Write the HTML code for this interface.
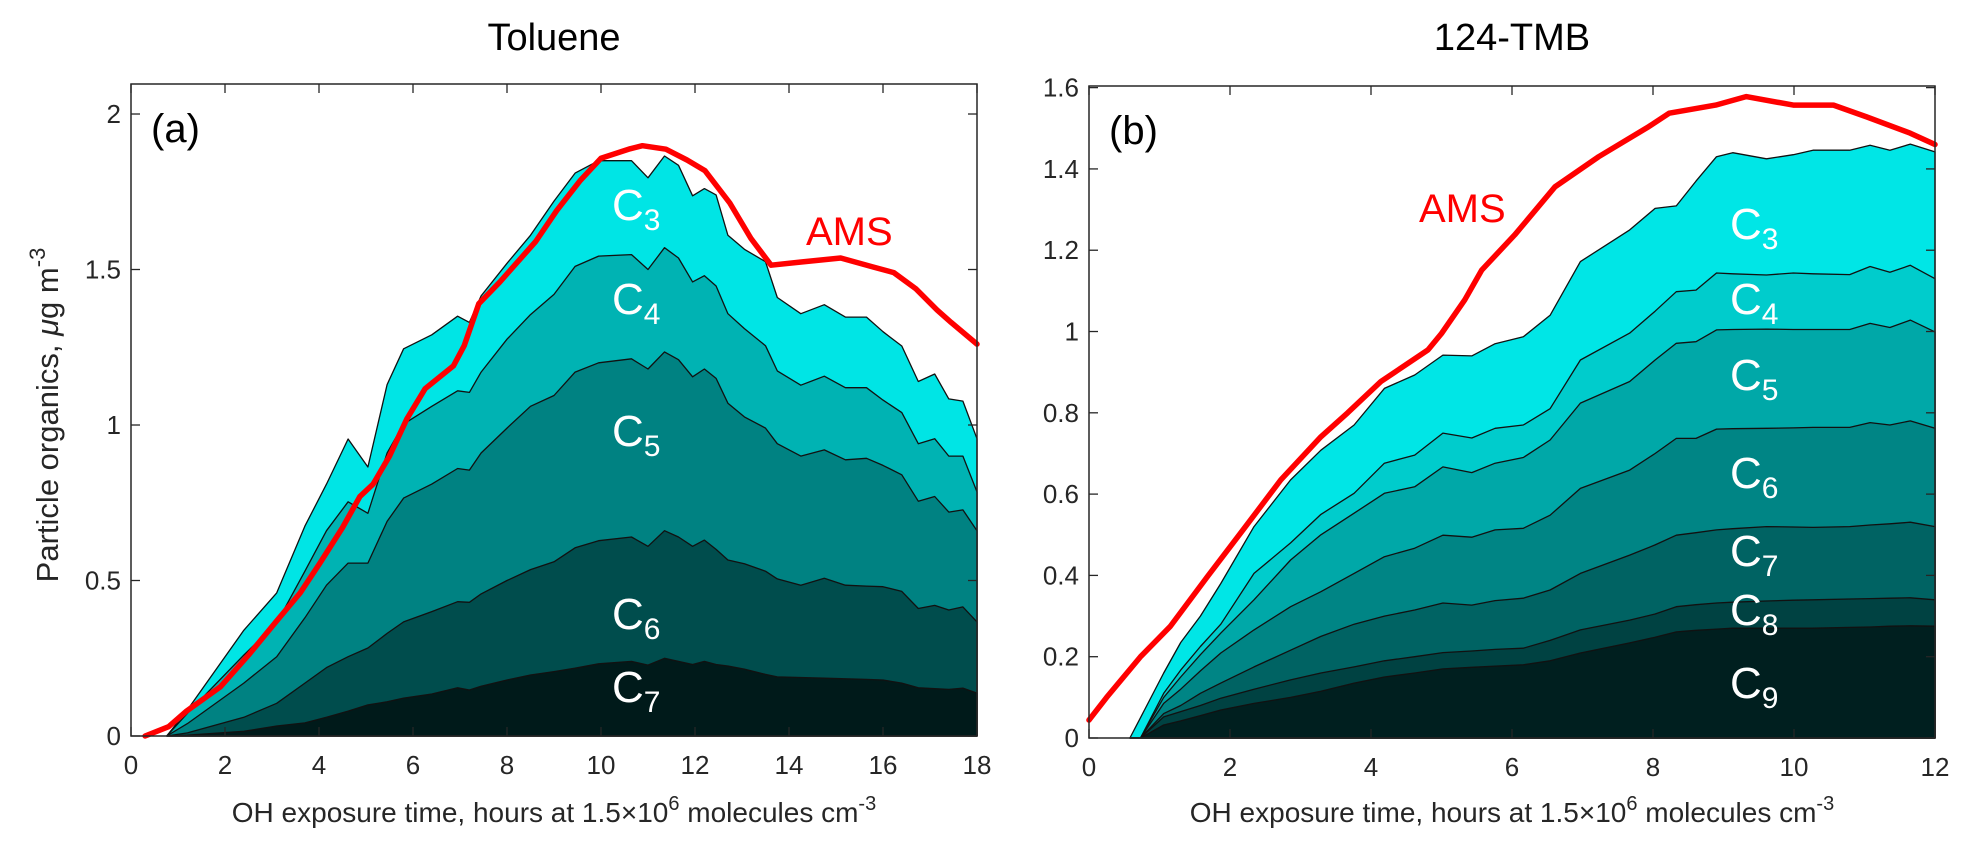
<!DOCTYPE html>
<html><head><meta charset="utf-8"><style>
html,body{margin:0;padding:0;background:#fff;}
svg{display:block;}
text{font-family:"Liberation Sans",sans-serif;}
</style></head><body>
<svg id="chart" width="1974" height="868" viewBox="0 0 1974 868" xmlns="http://www.w3.org/2000/svg">
<g id="panelA"></g>
<g id="panelB"></g>
</svg>
<script>
// ---------- Panel (a) Toluene data (cumulative tops) ----------
const xA = [0.76,1.2,2.4,3.1,3.7,4.16,4.62,5.04,5.45,5.8,6.4,6.95,7.2,7.45,8.0,8.5,9.0,9.45,9.95,10.65,11.0,11.35,11.65,11.95,12.2,12.45,12.7,13.05,13.5,13.75,14.25,14.75,15.2,15.65,16.0,16.4,16.75,17.1,17.4,17.7,18.0];
const a_C3 = [0,0.084,0.34,0.46,0.675,0.81,0.955,0.865,1.13,1.245,1.29,1.35,1.33,1.415,1.52,1.61,1.72,1.81,1.85,1.85,1.795,1.865,1.835,1.737,1.76,1.74,1.61,1.565,1.525,1.41,1.358,1.387,1.347,1.347,1.30,1.254,1.14,1.164,1.084,1.077,0.956];
const a_C4 = [0,0.073,0.26,0.363,0.53,0.66,0.753,0.716,0.91,1.003,1.06,1.11,1.105,1.17,1.276,1.355,1.42,1.51,1.543,1.548,1.50,1.57,1.537,1.46,1.48,1.447,1.358,1.31,1.255,1.174,1.128,1.157,1.12,1.12,1.08,1.04,0.94,0.956,0.90,0.90,0.785];
const a_C5 = [0,0.04,0.17,0.255,0.38,0.485,0.556,0.556,0.69,0.765,0.81,0.86,0.855,0.91,0.99,1.06,1.095,1.17,1.20,1.213,1.18,1.235,1.21,1.155,1.18,1.15,1.07,1.026,0.99,0.94,0.90,0.92,0.888,0.893,0.87,0.84,0.755,0.77,0.72,0.727,0.66];
const a_C6 = [0,0.01,0.06,0.105,0.17,0.22,0.255,0.283,0.33,0.367,0.40,0.432,0.43,0.457,0.50,0.535,0.56,0.605,0.628,0.64,0.61,0.66,0.64,0.61,0.63,0.60,0.566,0.554,0.53,0.505,0.485,0.507,0.485,0.482,0.48,0.465,0.41,0.42,0.405,0.415,0.367];
const a_C7 = [0,0.003,0.015,0.032,0.042,0.06,0.08,0.10,0.11,0.122,0.135,0.155,0.148,0.16,0.18,0.196,0.207,0.218,0.232,0.24,0.228,0.25,0.24,0.23,0.24,0.23,0.225,0.215,0.198,0.19,0.188,0.186,0.184,0.182,0.18,0.17,0.155,0.152,0.15,0.154,0.138];
const amsXA = [0.3,0.8,1.18,1.9,2.5,3.1,3.6,4.02,4.5,4.87,5.15,5.5,5.87,6.26,6.86,7.09,7.4,7.85,8.61,9.06,9.55,10.0,10.62,10.88,11.38,11.83,12.21,12.74,13.19,13.62,14.26,15.1,15.79,16.23,16.7,17.15,17.45,18.0];
const amsYA = [0,0.03,0.08,0.158,0.26,0.37,0.46,0.556,0.67,0.77,0.81,0.9,1.02,1.117,1.19,1.255,1.39,1.46,1.59,1.69,1.785,1.858,1.888,1.898,1.887,1.852,1.818,1.714,1.60,1.514,1.524,1.537,1.508,1.49,1.438,1.37,1.33,1.26];
const xTicksA = [0,2,4,6,8,10,12,14,16,18];
const yTicksA = [0,0.5,1,1.5,2];
const yTickLabelsA = ["0","0.5","1","1.5","2"];

// ---------- Panel (b) 124-TMB data (cumulative tops) ----------
const xB = [0.58,0.73,1.06,1.3,1.58,1.87,2.34,2.86,3.29,3.76,4.19,4.62,5.02,5.43,5.76,6.16,6.54,6.97,7.67,8.03,8.33,8.61,8.9,9.13,9.61,9.99,10.27,10.79,11.08,11.36,11.65,12.0];
const b_C3 = [0,0.05,0.16,0.235,0.30,0.38,0.52,0.635,0.708,0.77,0.86,0.893,0.942,0.94,0.97,0.987,1.04,1.172,1.25,1.303,1.309,1.37,1.43,1.44,1.425,1.435,1.446,1.446,1.458,1.446,1.461,1.442];
const b_C4 = [0,0,0.11,0.167,0.225,0.28,0.405,0.48,0.55,0.602,0.676,0.696,0.75,0.738,0.762,0.77,0.81,0.93,0.996,1.05,1.098,1.102,1.144,1.142,1.139,1.144,1.142,1.14,1.16,1.146,1.163,1.13];
const b_C5 = [0,0,0.10,0.15,0.205,0.258,0.34,0.438,0.50,0.553,0.602,0.618,0.667,0.653,0.676,0.69,0.733,0.824,0.877,0.93,0.971,0.975,1.004,1.005,1.006,1.005,1.005,1.005,1.02,1.01,1.028,0.999];
const b_C6 = [0,0,0.085,0.12,0.165,0.209,0.266,0.323,0.36,0.405,0.446,0.467,0.499,0.494,0.512,0.516,0.548,0.614,0.659,0.70,0.737,0.737,0.76,0.761,0.762,0.763,0.764,0.764,0.776,0.77,0.78,0.762];
const b_C7 = [0,0,0.06,0.08,0.11,0.135,0.175,0.216,0.25,0.28,0.30,0.315,0.332,0.327,0.338,0.344,0.364,0.405,0.45,0.475,0.499,0.505,0.512,0.515,0.52,0.519,0.518,0.52,0.524,0.527,0.531,0.52];
const b_C8 = [0,0,0.052,0.065,0.08,0.098,0.12,0.143,0.16,0.175,0.19,0.20,0.21,0.214,0.218,0.221,0.24,0.266,0.29,0.305,0.323,0.328,0.332,0.334,0.337,0.339,0.34,0.342,0.343,0.344,0.345,0.34];
const b_C9 = [0,0,0.032,0.042,0.055,0.069,0.085,0.10,0.115,0.135,0.15,0.16,0.17,0.174,0.177,0.18,0.19,0.209,0.234,0.248,0.261,0.265,0.268,0.27,0.27,0.27,0.27,0.272,0.273,0.275,0.276,0.275];
const amsXB = [0,0.25,0.73,1.15,1.68,2.15,2.72,3.29,3.67,4.14,4.81,5.0,5.33,5.57,6.04,6.61,7.23,7.94,8.23,8.89,9.32,9.99,10.56,11.03,11.65,12.0];
const amsYB = [0.044,0.10,0.2,0.274,0.397,0.504,0.635,0.741,0.80,0.877,0.955,0.995,1.078,1.151,1.238,1.356,1.43,1.504,1.537,1.557,1.578,1.557,1.557,1.528,1.488,1.46];
const xTicksB = [0,2,4,6,8,10,12];
const yTicksB = [0,0.2,0.4,0.6,0.8,1,1.2,1.4,1.6];
const yTickLabelsB = ["0","0.2","0.4","0.6","0.8","1","1.2","1.4","1.6"];

const NS = "http://www.w3.org/2000/svg";
function mk(parent, tag, attrs, txt){
  const e = document.createElementNS(NS, tag);
  for (const k in attrs) e.setAttribute(k, attrs[k]);
  if (txt !== undefined) e.textContent = txt;
  parent.appendChild(e);
  return e;
}

function panel(g, cfg){
  const sx = v => cfg.x0 + (v - cfg.xmin) * (cfg.x1 - cfg.x0) / (cfg.xmax - cfg.xmin);
  const sy = v => cfg.y0 - (v - cfg.ymin) * (cfg.y0 - cfg.y1) / (cfg.ymax - cfg.ymin);
  cfg.layers.forEach((L) => {
    let d = "M" + sx(cfg.xs[0]) + "," + sy(0);
    for (let i = 0; i < cfg.xs.length; i++) d += " L" + sx(cfg.xs[i]).toFixed(1) + "," + sy(L.vals[i]).toFixed(1);
    d += " L" + sx(cfg.xs[cfg.xs.length-1]) + "," + sy(0) + " Z";
    const p = mk(g, "path", {d: d, fill: L.color, stroke: "#111", "stroke-width": 1.3, "stroke-linejoin": "round"});
    
    
  });
  let d = "";
  for (let i = 0; i < cfg.amsX.length; i++) d += (i ? " L" : "M") + sx(cfg.amsX[i]).toFixed(1) + "," + sy(cfg.amsY[i]).toFixed(1);
  const line = mk(g, "path", {d: d, fill: "none", stroke: "#ff0000", "stroke-width": 5.5, "stroke-linejoin": "round", "stroke-linecap": "round"});
  
  
  const box = mk(g, "rect", {x: cfg.x0, y: cfg.y1, width: cfg.x1 - cfg.x0, height: cfg.y0 - cfg.y1, fill: "none", stroke: "#262626", "stroke-width": 1.5});
  
  
  cfg.xTicks.forEach(t => {
    const X = sx(t);
    mk(g, "line", {x1: X, x2: X, y1: cfg.y0, y2: cfg.y0 - 9, stroke: "#262626", "stroke-width": 1.3});
    mk(g, "line", {x1: X, x2: X, y1: cfg.y1, y2: cfg.y1 + 9, stroke: "#262626", "stroke-width": 1.3});
    const tl = mk(g, "text", {x: X, y: cfg.y0 + 38, "font-size": 26, fill: "#262626", "text-anchor": "middle"}, String(t));
    
    
  });
  cfg.yTicks.forEach((t, i) => {
    const Y = sy(t);
    mk(g, "line", {x1: cfg.x0, x2: cfg.x0 + 9, y1: Y, y2: Y, stroke: "#262626", "stroke-width": 1.3});
    mk(g, "line", {x1: cfg.x1, x2: cfg.x1 - 9, y1: Y, y2: Y, stroke: "#262626", "stroke-width": 1.3});
    const tl = mk(g, "text", {x: cfg.x0 - 10, y: Y + 9, "font-size": 26, fill: "#262626", "text-anchor": "end"}, cfg.yLabels[i]);
    
    
  });
  cfg.layers.forEach(L => {
    const t = mk(g, "text", {x: L.lx, y: L.ly, "font-size": 44, fill: "#fff"});
    
    
    t.appendChild(document.createTextNode("C"));
    mk(t, "tspan", {"font-size": 30, dy: 10}, L.name.slice(1));
  });
  const ams = mk(g, "text", {x: cfg.amsLx, y: cfg.amsLy, "font-size": 40, fill: "#ff0000"}, "AMS");
  
  
  const pl = mk(g, "text", {x: cfg.x0 + 20, y: cfg.y1 + 58, "font-size": 40, fill: "#000"}, cfg.tag);
  
  
  const ti = mk(g, "text", {x: (cfg.x0 + cfg.x1) / 2, y: 50, "font-size": 38, fill: "#000", "text-anchor": "middle"}, cfg.title);
  
  
  const xt = mk(g, "text", {x: (cfg.x0 + cfg.x1) / 2, y: 822, "font-size": 28, fill: "#262626", "text-anchor": "middle"});
  
  
  xt.appendChild(document.createTextNode("OH exposure time, hours at 1.5\u00d710"));
  mk(xt, "tspan", {"font-size": 20, dy: -12}, "6");
  mk(xt, "tspan", {dy: 12}, " molecules cm");
  mk(xt, "tspan", {"font-size": 20, dy: -12}, "-3");
}

panel(document.getElementById("panelA"), {
  x0: 131, x1: 977, y0: 736, y1: 84, xmin: 0, xmax: 18, ymin: 0, ymax: 2.0965,
  xs: xA,
  layers: [
    {name: "C3", vals: a_C3, color: "#00e5e5", lx: 612, ly: 220},
    {name: "C4", vals: a_C4, color: "#00b3b3", lx: 612, ly: 314},
    {name: "C5", vals: a_C5, color: "#008282", lx: 612, ly: 446},
    {name: "C6", vals: a_C6, color: "#004d4d", lx: 612, ly: 629},
    {name: "C7", vals: a_C7, color: "#001a1a", lx: 612, ly: 702}
  ],
  amsX: amsXA, amsY: amsYA, amsLx: 806, amsLy: 245,
  xTicks: xTicksA, yTicks: yTicksA, yLabels: yTickLabelsA,
  tag: "(a)", title: "Toluene"
});
panel(document.getElementById("panelB"), {
  x0: 1089, x1: 1935, y0: 738, y1: 86, xmin: 0, xmax: 12, ymin: 0, ymax: 1.604,
  xs: xB,
  layers: [
    {name: "C3", vals: b_C3, color: "#00e6e6", lx: 1730, ly: 239},
    {name: "C4", vals: b_C4, color: "#00cccc", lx: 1730, ly: 314},
    {name: "C5", vals: b_C5, color: "#00a8a8", lx: 1730, ly: 390},
    {name: "C6", vals: b_C6, color: "#008585", lx: 1730, ly: 488},
    {name: "C7", vals: b_C7, color: "#006363", lx: 1730, ly: 566},
    {name: "C8", vals: b_C8, color: "#004242", lx: 1730, ly: 625},
    {name: "C9", vals: b_C9, color: "#001f1f", lx: 1730, ly: 698}
  ],
  amsX: amsXB, amsY: amsYB, amsLx: 1419, amsLy: 222,
  xTicks: xTicksB, yTicks: yTicksB, yLabels: yTickLabelsB,
  tag: "(b)", title: "124-TMB"
});
const svg = document.getElementById("chart");
const yt = mk(svg, "text", {x: 0, y: 0, "font-size": 31, fill: "#262626", "text-anchor": "middle", transform: "translate(58,415) rotate(-90)"});


yt.appendChild(document.createTextNode("Particle organics, "));
mk(yt, "tspan", {"font-style": "italic"}, "\u03bc");
yt.appendChild(document.createTextNode("g m"));
mk(yt, "tspan", {"font-size": 22, dy: -13}, "-3");
</script>
</body></html>
